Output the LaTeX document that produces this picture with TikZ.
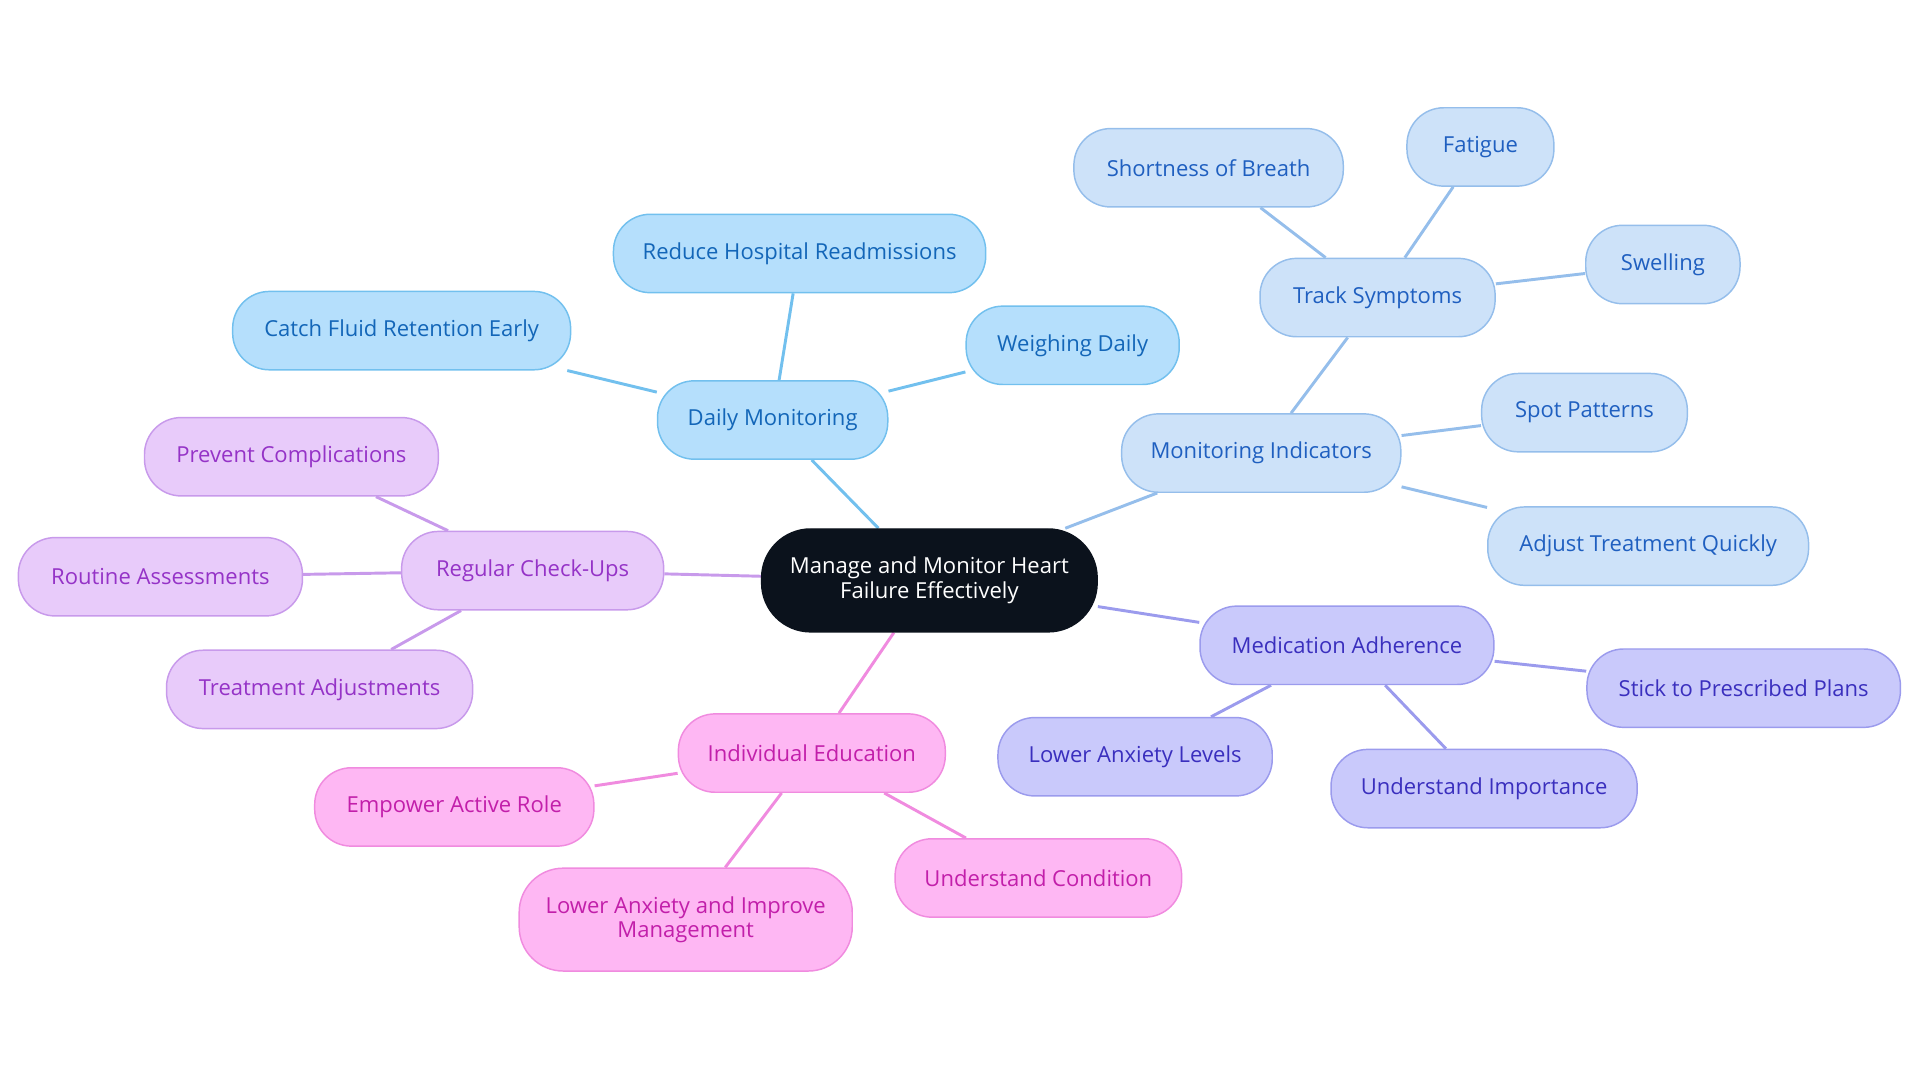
\documentclass[tikz,border=0pt]{standalone}
\usepackage{fontspec}
\setmainfont{Open Sans}
\usetikzlibrary{backgrounds}
\definecolor{bf}{HTML}{B5DFFC}\definecolor{bd}{HTML}{72C0EE}\definecolor{bt}{HTML}{1366B8}
\definecolor{mf}{HTML}{CDE2F9}\definecolor{md}{HTML}{95BEEB}\definecolor{mt}{HTML}{1F5FC0}
\definecolor{af}{HTML}{C9C9FB}\definecolor{ad}{HTML}{9B9BED}\definecolor{at}{HTML}{3A2FBE}
\definecolor{pf}{HTML}{FEB7F3}\definecolor{pd}{HTML}{F08BDF}\definecolor{pt}{HTML}{C21FAA}
\definecolor{vf}{HTML}{E8CBFA}\definecolor{vd}{HTML}{C89AEB}\definecolor{vt}{HTML}{9533C7}
\definecolor{rootc}{HTML}{0B121C}
\tikzset{
 box/.style={draw, line width=0.6pt, rounded corners=15pt, minimum height=32pt, inner sep=2pt, align=center, font=\fontsize{9}{10}\selectfont},
 bb/.style={box, fill=bf, draw=bd, text=bt},
 mb/.style={box, fill=mf, draw=md, text=mt},
 ab/.style={box, fill=af, draw=ad, text=at},
 pb/.style={box, fill=pf, draw=pd, text=pt},
 vb/.style={box, fill=vf, draw=vd, text=vt},
 ln/.style={line width=1.2pt},
}
\begin{document}
\begin{tikzpicture}[x=0.5pt,y=-0.5pt]
\useasboundingbox (0,0) rectangle (1568,884);
\node[box, fill=rootc, draw=rootc, text=white, minimum width=137pt, minimum height=42pt, rounded corners=20pt] (root) at (759,474) {Manage and Monitor Heart\\Failure Effectively};
\node[bb, minimum width=94pt] (dm) at (631,343) {Daily Monitoring};
\node[bb, minimum width=152pt] (rh) at (653,207) {Reduce Hospital Readmissions};
\node[bb, minimum width=138pt] (cf) at (328,270) {Catch Fluid Retention Early};
\node[bb, minimum width=87pt] (wd) at (876,282) {Weighing Daily};
\node[mb, minimum width=114pt] (mi) at (1030,370) {Monitoring Indicators};
\node[mb, minimum width=96pt] (ts) at (1125,243) {Track Symptoms};
\node[mb, minimum width=110pt] (sb) at (987,137) {Shortness of Breath};
\node[mb, minimum width=60pt] (fa) at (1209,120) {Fatigue};
\node[mb, minimum width=63pt] (sw) at (1358,216) {Swelling};
\node[mb, minimum width=84pt] (sp) at (1294,337) {Spot Patterns};
\node[mb, minimum width=131pt] (at) at (1346,446) {Adjust Treatment Quickly};
\node[ab, minimum width=120pt] (ma) at (1100,527) {Medication Adherence};
\node[ab, minimum width=128pt] (st) at (1424,562) {Stick to Prescribed Plans};
\node[ab, minimum width=112pt] (la) at (927,618) {Lower Anxiety Levels};
\node[ab, minimum width=125pt] (ui) at (1212,644) {Understand Importance};
\node[pb, minimum width=109pt] (ie) at (663,615) {Individual Education};
\node[pb, minimum width=114pt] (ea) at (371,659) {Empower Active Role};
\node[pb, minimum width=136pt, minimum height=42pt, rounded corners=18pt] (lm) at (560,751) {Lower Anxiety and Improve\\Management};
\node[pb, minimum width=117pt] (uc) at (848,717) {Understand Condition};
\node[vb, minimum width=107pt] (rc) at (435,466) {Regular Check-Ups};
\node[vb, minimum width=120pt] (pc) at (238,373) {Prevent Complications};
\node[vb, minimum width=116pt] (ra) at (131,471) {Routine Assessments};
\node[vb, minimum width=125pt] (ta) at (261,563) {Treatment Adjustments};
\begin{scope}[on background layer]
\draw[ln, bd] (root)--(dm) (dm)--(rh) (dm)--(cf) (dm)--(wd);
\draw[ln, md] (root)--(mi) (mi)--(ts) (ts)--(sb) (ts)--(fa) (ts)--(sw) (mi)--(sp) (mi)--(at);
\draw[ln, ad] (root)--(ma) (ma)--(st) (ma)--(la) (ma)--(ui);
\draw[ln, pd] (root)--(ie) (ie)--(ea) (ie)--(lm) (ie)--(uc);
\draw[ln, vd] (root)--(rc) (rc)--(pc) (rc)--(ra) (rc)--(ta);
\end{scope}
\end{tikzpicture}
\end{document}
